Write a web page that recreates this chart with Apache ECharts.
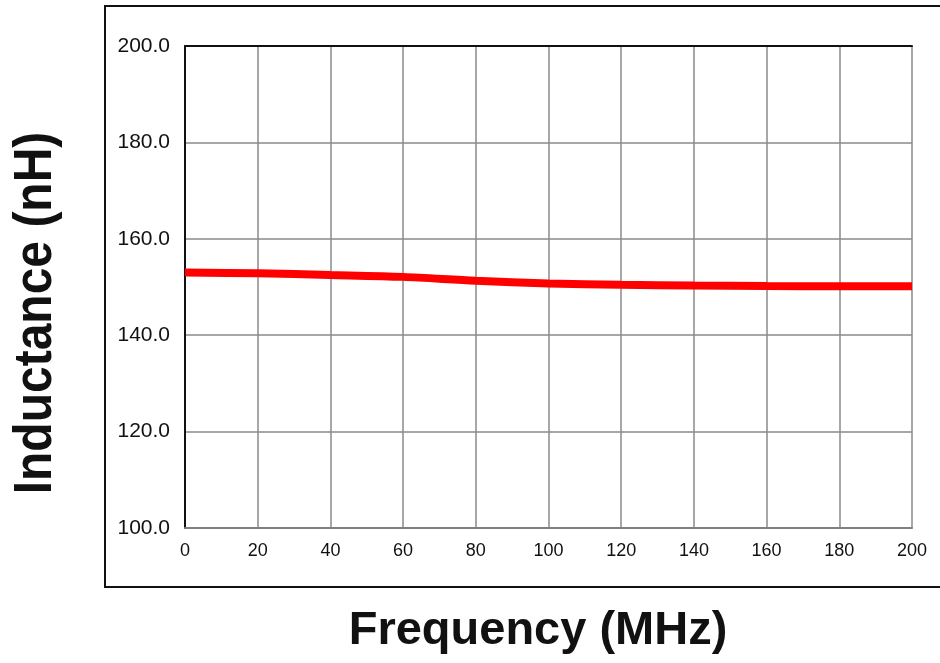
<!DOCTYPE html>
<html><head><meta charset="utf-8">
<script src="https://cdn.jsdelivr.net/npm/echarts@6/dist/echarts.min.js"></script>
<style>html,body{margin:0;padding:0;background:#fff}#c{width:940px;height:663px}</style>
</head><body><div id="c"></div>
<script>
const frequency = [0, 20, 40, 60, 80, 100, 120, 140, 160, 180, 200];
const inductance = [153.0, 152.85, 152.5, 152.1, 151.3, 150.75, 150.45, 150.3, 150.2, 150.15, 150.15];
const xTicks = [0, 20, 40, 60, 80, 100, 120, 140, 160, 180, 200];
const yTicks = [100, 120, 140, 160, 180, 200];

const chart = echarts.init(document.getElementById('c'), null, {renderer: 'canvas'});
const font = '"Liberation Sans", Arial, sans-serif';
chart.setOption({
  backgroundColor: '#fff',
  animation: false,
  graphic: [{
    type: 'rect', shape: {x: 105, y: 6, width: 900, height: 581},
    style: {fill: 'none', stroke: '#111', lineWidth: 2}, z: -1
  }, {
    type: 'text', x: 538, y: 631,
    style: {text: 'Frequency (MHz)', font: 'bold 47px ' + font, fill: '#111',
      align: 'center', verticalAlign: 'middle', textAlign: 'center', textVerticalAlign: 'middle'}
  }, {
    type: 'text', rotation: Math.PI / 2, x: 36, y: 313, scaleY: 1.13,
    style: {text: 'Inductance (nH)', font: 'bold 48px ' + font, fill: '#111',
      align: 'center', verticalAlign: 'middle', textAlign: 'center', textVerticalAlign: 'middle'}
  }],
  grid: {left: 185, top: 46, width: 727, height: 482, containLabel: false},
  xAxis: [{
    type: 'value', min: xTicks[0], max: xTicks[xTicks.length - 1], interval: 20,
    axisLine: {show: true, onZero: false, lineStyle: {color: '#808080', width: 2}},
    axisTick: {show: false},
    axisLabel: {color: '#111', fontSize: 18, fontFamily: font, margin: 14},
    splitLine: {show: true, lineStyle: {color: '#8a8a8a', width: 1.5}}
  }, {
    type: 'value', position: 'top', min: 0, max: 200,
    axisLine: {show: true, lineStyle: {color: '#111', width: 2}},
    axisTick: {show: false}, axisLabel: {show: false}, splitLine: {show: false}
  }],
  yAxis: {
    type: 'value', min: yTicks[0], max: yTicks[yTicks.length - 1], interval: 20,
    axisLine: {show: true, lineStyle: {color: '#111', width: 2}},
    axisTick: {show: false},
    axisLabel: {color: '#111', fontSize: 21, fontFamily: font, margin: 15,
      formatter: v => v.toFixed(1)},
    splitLine: {show: true, lineStyle: {color: '#8a8a8a', width: 1.5}}
  },
  series: [{
    type: 'line', xAxisIndex: 0,
    data: frequency.map((f, i) => [f, inductance[i]]),
    showSymbol: false, smooth: 0.3,
    lineStyle: {color: '#ff0000', width: 8}
  }]
});
</script></body></html>
